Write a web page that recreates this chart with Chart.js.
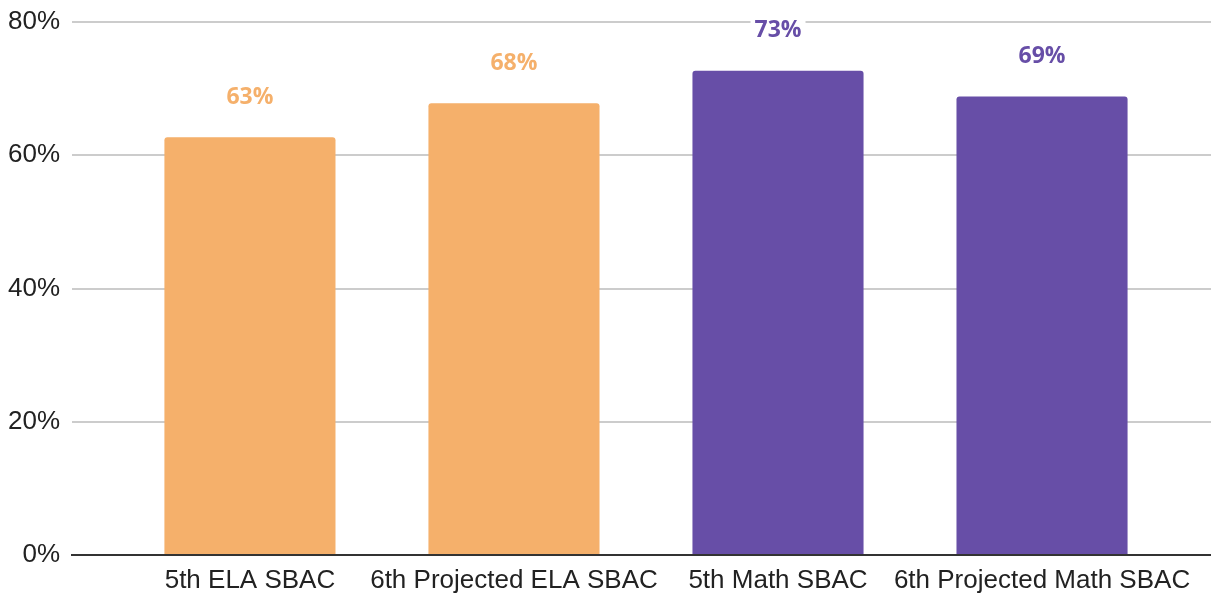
<!DOCTYPE html>
<html>
<head>
<meta charset="utf-8">
<script src="https://cdn.jsdelivr.net/npm/chart.js@4.4.1/dist/chart.umd.min.js"></script>
<style>
  html, body { margin: 0; padding: 0; background: #fff; }
  #wrap { width: 1211px; height: 593px; position: relative; }
</style>
</head>
<body>
<div id="wrap"><canvas id="myChart"></canvas></div>
<script>
// data
var categories = ['5th ELA SBAC', '6th Projected ELA SBAC', '5th Math SBAC', '6th Projected Math SBAC'];
var scores = [62.7, 67.8, 72.7, 68.8];
var barColors = ['#F5B06B', '#F5B06B', '#674EA7', '#674EA7'];
var yTicks = [0, 20, 40, 60, 80];

// labels above the bars
var valueLabels = {
  id: 'valueLabels',
  afterDatasetsDraw: function (chart) {
    var ctx = chart.ctx;
    var meta = chart.getDatasetMeta(0);
    ctx.save();
    ctx.font = 'bold 23px "Open Sans", sans-serif';
    ctx.textAlign = 'center';
    ctx.textBaseline = 'middle';
    meta.data.forEach(function (bar, i) {
      var txt = Math.round(scores[i]) + '%';
      var y = bar.y - 40;
      var w = ctx.measureText(txt).width;
      ctx.fillStyle = '#fff';
      ctx.fillRect(bar.x - w / 2 - 4, y - 13, w + 8, 26);
      ctx.fillStyle = barColors[i];
      ctx.fillText(txt, bar.x, y);
    });
    ctx.restore();
  }
};

var ctx = document.getElementById('myChart').getContext('2d');
window.chart = new Chart(ctx, {
  type: 'bar',
  data: {
    datasets: [{
      data: scores.map(function (v, i) { return { x: i, y: v }; }),
      backgroundColor: barColors,
      borderRadius: { topLeft: 3, topRight: 3 },
      borderSkipped: 'start',
      barPercentage: 0.648,
      categoryPercentage: 1
    }]
  },
  options: {
    responsive: true,
    maintainAspectRatio: false,
    animation: false,
    layout: { padding: { top: 22, right: 0, left: 0, bottom: 0 } },
    plugins: { legend: { display: false }, tooltip: { enabled: false } },
    scales: {
      x: {
        type: 'linear',
        offset: false,
        min: -0.674,
        max: 3.64,
        afterBuildTicks: function (scale) {
          scale.ticks = categories.map(function (c, i) { return { value: i }; });
        },
        afterFit: function (scale) {
          scale.height = 38;
          scale.paddingLeft = 0;
          scale.paddingRight = 0;
        },
        grid: { display: false, drawTicks: false, offset: false },
        border: { display: true, color: '#333', width: 2 },
        ticks: {
          autoSkip: false,
          maxRotation: 0,
          padding: 10,
          color: '#222',
          font: { family: '"Liberation Sans", Arial, sans-serif', size: 26 },
          callback: function (v) { return categories[v]; }
        }
      },
      y: {
        min: 0,
        max: 80,
        afterBuildTicks: function (scale) {
          scale.ticks = yTicks.map(function (v) { return { value: v }; });
        },
        afterFit: function (scale) {
          scale.width = 72;
          scale.paddingTop = 0;
          scale.paddingBottom = 0;
        },
        grid: { color: '#cccccc', lineWidth: 2, drawTicks: false },
        border: { display: false },
        ticks: {
          padding: 12,
          color: '#222',
          font: { family: '"Liberation Sans", Arial, sans-serif', size: 26 },
          callback: function (v) { return v + '%'; }
        }
      }
    }
  },
  plugins: [valueLabels]
});
</script>
</body>
</html>
